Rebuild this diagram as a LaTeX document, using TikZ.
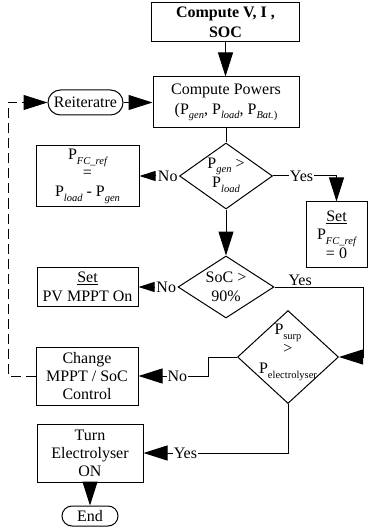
\documentclass[tikz,border=0pt]{standalone}
\usepackage{fontspec}
\setmainfont{Liberation Serif}
\usetikzlibrary{arrows.meta,shapes.geometric}
% lowered, smaller text used for the subscripts of P
\newcommand{\lowtxt}[1]{\raisebox{-0.3em}{\fontsize{10.5}{10.5}\selectfont #1}}
\newcommand{\lowit}[1]{\lowtxt{\itshape #1}}

\begin{document}
\begin{tikzpicture}[x=1pt,y=-1pt,
  font=\fontsize{16}{19.5}\selectfont,
  line width=1pt,
  box/.style={draw, rectangle, align=center, inner sep=0pt},
  pill/.style={draw, rectangle, rounded corners=#1, align=center, inner sep=0pt},
  dia/.style={draw, diamond, inner sep=0pt},
  txt/.style={align=center, inner sep=0pt},
  lbl/.style={inner sep=1pt, fill=white},
  arr/.style={-{Triangle[length=24pt,width=15pt]}},
  sarr/.style={-{Triangle[length=16pt,width=10pt]}},
  flow/.style={dash pattern=on 10pt off 5pt}
]
\useasboundingbox (0,0) rectangle (368,529);

% process boxes
\node[box, font=\fontsize{16}{19.5}\selectfont\bfseries, minimum width=148pt, minimum height=39pt] (cv) at (225.5,22.5) {Compute V, I ,\\SOC};
\node[box, minimum width=146pt, minimum height=51pt] (cp) at (226,102.5) {Compute Powers\\(P\lowit{gen}, P\lowit{load}, P\lowit{Bat.}\lowtxt{)}};
\node[pill=12.5pt, minimum width=75pt, minimum height=25pt] (re) at (85.5,102.5) {Reiteratre};

% first decision
\node[dia, minimum width=93pt, minimum height=66pt] (d1) at (226,176) {};
\node[txt] (d1t) at (226,175) {P\lowit{gen} >\\P\lowit{load}};
\node[box, font=\fontsize{16}{18.5}\selectfont, minimum width=103pt, minimum height=60pt] (fc) at (87.5,176) {P\lowit{FC\_ref}\\=\\P\lowit{load} - P\lowit{gen}};
\node[box, font=\fontsize{16}{18.5}\selectfont, minimum width=61pt, minimum height=65pt] (s0) at (336.5,234.5) {\underline{Set}\\P\lowit{FC\_ref}\\= 0};

% second decision
\node[dia, minimum width=96pt, minimum height=62pt] (d2) at (226,287) {};
\node[txt] (d2t) at (226,287) {SoC >\\90\%};
\node[box, minimum width=101pt, minimum height=39pt] (pv) at (87.5,287) {\underline{Set}\\PV MPPT On};

% third decision
\node[dia, minimum width=101pt, minimum height=93pt] (d3) at (288,357) {};
\node[txt, font=\fontsize{16}{19.5}\selectfont] (d3t) at (288,352) {P\lowtxt{surp}\\>\\P\lowtxt{electrolyser}};
\node[box, font=\fontsize{16}{18}\selectfont, minimum width=102pt, minimum height=58pt] (ch) at (87,376) {Change\\MPPT / SoC\\Control};
\node[box, font=\fontsize{16}{18}\selectfont, minimum width=106pt, minimum height=58pt] (te) at (90,453) {Turn\\Electrolyser\\ON};
\node[pill=10pt, minimum width=56pt, minimum height=20pt] (en) at (90,516) {End};

% helper columns for the routed connectors
\coordinate (lx) at (8,0);
\coordinate (rx) at (363,0);
\coordinate (bx) at (208,0);

% connectors
\draw[arr] (cv.south) -- (cv.south |- cp.north);
\draw[arr] (re.east) -- (cp.west);
\draw[flow, arr] (ch.west) -- (ch.west -| lx) -- (re.west -| lx) -- (re.west);
\draw (cp.south) -- (d1.north);

\node[inner sep=1pt, anchor=east] (n1) at (d1.west) {No};
\draw[sarr] (n1.west) -- (fc.east);
\draw[arr] (d1.east) -- node[lbl, pos=0.45] (y1) {Yes} (s0.north |- d1.east) -- (s0.north);

\draw[arr] (d1.south) -- (d2.north);
\node[inner sep=1pt, anchor=east] (n2) at (d2.west) {No};
\draw[sarr] (n2.west) -- (pv.east);
\draw[arr] (d2.east) -- node[pos=0.29, above, inner sep=0.5pt] (y2) {Yes} (d2.east -| rx) -- (d3.east -| rx) -- (d3.east);

\draw[arr] (d3.west) -- (d3.west -| bx) -- (ch.east -| bx) -- node[lbl, pos=0.44] (n3) {No} (ch.east);
\draw[arr] (d3.south) -- (d3.south |- te.east) -- node[lbl, pos=0.71] (y3) {Yes} (te.east);
\draw[arr] (te.south) -- (en.north);
\end{tikzpicture}
\end{document}
